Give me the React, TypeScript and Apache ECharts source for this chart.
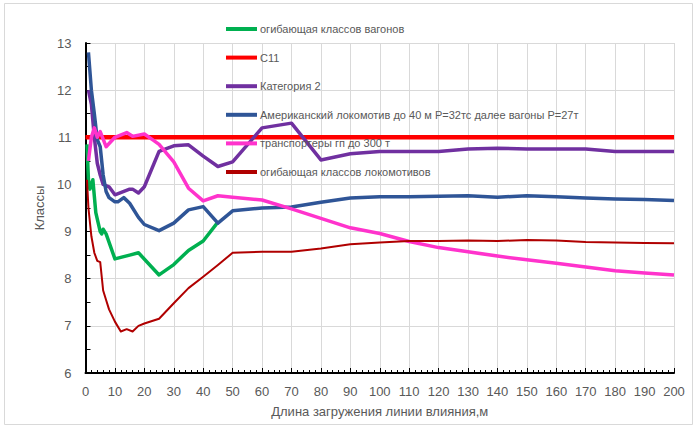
import React, { useEffect, useRef } from "react";
import * as echarts from "echarts";

const seriesNames = [
  "огибающая классов вагонов",
  "С11",
  "Категория 2",
  "Американский локомотив до 40 м P=32тс далее вагоны P=27т",
  "транспортеры гп до 300 т",
  "огибающая классов локомотивов",
];
const seriesColors = ["#00B050", "#FF0000", "#7030A0", "#2F5597", "#FF33CC", "#B00000"];
const seriesWidths = [3.5, 4.5, 3.5, 3.5, 3.5, 2];

const wagonsEnvelope: [number, number][] = [
  [0.5, 10.85], [1, 10.1], [1.5, 9.9], [2.5, 10.1], [3.5, 9.4], [5, 9.0], [5.5, 8.95], [6, 9.05],
  [7, 8.95], [10, 8.42], [15, 8.5], [18, 8.55], [25, 8.08], [30, 8.3], [35, 8.6], [40, 8.8], [45, 9.2],
];
const c11: [number, number][] = [[0, 11], [200, 11]];
const category2: [number, number][] = [
  [1, 12.0], [2, 11.7], [3, 11.0], [4, 10.45], [5, 10.2], [6, 10.0], [8, 9.95], [10, 9.78],
  [15, 9.9], [16, 9.9], [18, 9.82], [20, 9.95], [25, 10.7], [30, 10.82], [35, 10.84], [40, 10.6],
  [45, 10.38], [50, 10.48], [60, 11.2], [70, 11.3], [80, 10.52], [90, 10.65], [100, 10.7],
  [110, 10.7], [120, 10.7], [130, 10.75], [140, 10.77], [150, 10.75], [160, 10.75], [170, 10.75],
  [180, 10.7], [190, 10.7], [200, 10.7],
];
const americanLoco: [number, number][] = [
  [1, 12.8], [2, 12.0], [3, 11.5], [4, 10.95], [5, 10.8], [6, 10.2], [7, 9.85], [8, 9.72],
  [10, 9.63], [11, 9.63], [13, 9.72], [15, 9.6], [18, 9.3], [20, 9.15], [25, 9.02], [30, 9.18],
  [35, 9.46], [40, 9.53], [45, 9.18], [50, 9.44], [60, 9.5], [70, 9.52], [80, 9.62], [90, 9.71],
  [100, 9.74], [110, 9.74], [120, 9.75], [130, 9.76], [140, 9.73], [150, 9.76], [160, 9.74],
  [170, 9.71], [180, 9.69], [190, 9.68], [200, 9.66],
];
const transporters: [number, number][] = [
  [1, 10.5], [2, 11.0], [3, 11.2], [4, 11.0], [5, 11.12], [7, 10.8], [10, 11.0], [14, 11.1],
  [16, 11.02], [20, 11.07], [23, 10.94], [25, 10.85], [30, 10.48], [35, 9.92], [40, 9.65],
  [45, 9.76], [50, 9.73], [60, 9.67], [70, 9.48], [80, 9.28], [90, 9.08], [100, 8.96],
  [110, 8.79], [120, 8.66], [130, 8.57], [140, 8.48], [150, 8.4], [160, 8.33], [170, 8.25],
  [180, 8.17], [190, 8.12], [200, 8.08],
];
const locoEnvelope: [number, number][] = [
  [0.5, 10.1], [1, 9.5], [2, 8.9], [3, 8.55], [4, 8.38], [5, 8.35], [6, 7.75], [7, 7.55],
  [8, 7.35], [10, 7.09], [12, 6.88], [14, 6.93], [16, 6.88], [18, 7.0], [20, 7.05], [25, 7.15],
  [30, 7.48], [35, 7.8], [40, 8.04], [45, 8.29], [50, 8.55], [60, 8.57], [70, 8.57], [80, 8.64],
  [90, 8.73], [100, 8.77], [110, 8.8], [120, 8.8], [130, 8.81], [140, 8.8], [150, 8.82],
  [160, 8.81], [170, 8.78], [180, 8.77], [190, 8.76], [200, 8.75],
];
const seriesData = [wagonsEnvelope, c11, category2, americanLoco, transporters, locoEnvelope];

const xAxisTitle = "Длина загружения линии влияния,м";
const yAxisTitle = "Классы";

const FONT = "'Liberation Sans', Arial, sans-serif";
const GRAY = "#595959";

export default function App() {
  const ref = useRef<HTMLDivElement>(null);
  useEffect(() => {
    if (!ref.current) return;
    const chart = echarts.init(ref.current, null, { renderer: "svg" });
    chart.setOption({
      animation: false,
      backgroundColor: "#ffffff",
      textStyle: { fontFamily: FONT },
      graphic: [
        {
          type: "rect",
          shape: { x: 4.5, y: 3.5, width: 688, height: 421 },
          style: { fill: "none", stroke: "#D9D9D9", lineWidth: 1 },
          silent: true,
          z: -1,
        },
      ],
      grid: { left: 85.5, right: 26, top: 43, bottom: 55, containLabel: false },
      legend: {
        orient: "vertical",
        left: 221,
        top: 17,
        icon: "rect",
        itemWidth: 31,
        itemHeight: 4,
        itemGap: 14.6,
        textStyle: { color: GRAY, fontSize: 11, fontFamily: FONT, lineHeight: 14, padding: [0, 0, 0, -2] },
        data: seriesNames,
      },
      xAxis: {
        type: "value",
        min: 0,
        max: 200,
        interval: 10,
        name: xAxisTitle,
        nameLocation: "middle",
        nameGap: 32,
        nameTextStyle: { color: GRAY, fontSize: 13, fontFamily: FONT },
        axisLine: { show: true, lineStyle: { color: "#000000", width: 2 } },
        axisTick: { show: true, inside: true, length: 5, lineStyle: { color: "#000000", width: 1 } },
        minorTick: { show: true, splitNumber: 5, length: 3, lineStyle: { color: "#000000", width: 1 } },
        axisLabel: { color: GRAY, fontSize: 13, margin: 12, fontFamily: FONT },
        splitLine: { show: true, lineStyle: { color: "#D9D9D9", width: 1 } },
      },
      yAxis: {
        type: "value",
        min: 6,
        max: 13,
        interval: 1,
        name: yAxisTitle,
        nameLocation: "middle",
        nameGap: 35,
        nameTextStyle: { color: GRAY, fontSize: 13, fontFamily: FONT },
        axisLine: { show: true, lineStyle: { color: "#000000", width: 2 } },
        axisTick: { show: true, inside: true, length: 5, lineStyle: { color: "#000000", width: 1 } },
        minorTick: { show: true, splitNumber: 2, length: 5, lineStyle: { color: "#000000", width: 1 } },
        axisLabel: { color: GRAY, fontSize: 13, margin: 14, fontFamily: FONT },
        splitLine: { show: true, lineStyle: { color: "#D9D9D9", width: 1 } },
      },
      series: seriesNames.map((name, i) => ({
        name,
        type: "line",
        data: seriesData[i],
        showSymbol: false,
        symbol: "none",
        color: seriesColors[i],
        lineStyle: { color: seriesColors[i], width: seriesWidths[i], join: "round" },
        z: i === 1 ? 1 : 2,
      })),
    });
    return () => chart.dispose();
  }, []);
  return (
    <div style={{ position: "absolute", left: 0, top: 0, width: 700, height: 428, background: "#fff" }}>
      <div ref={ref} style={{ width: 700, height: 428 }} />
    </div>
  );
}
